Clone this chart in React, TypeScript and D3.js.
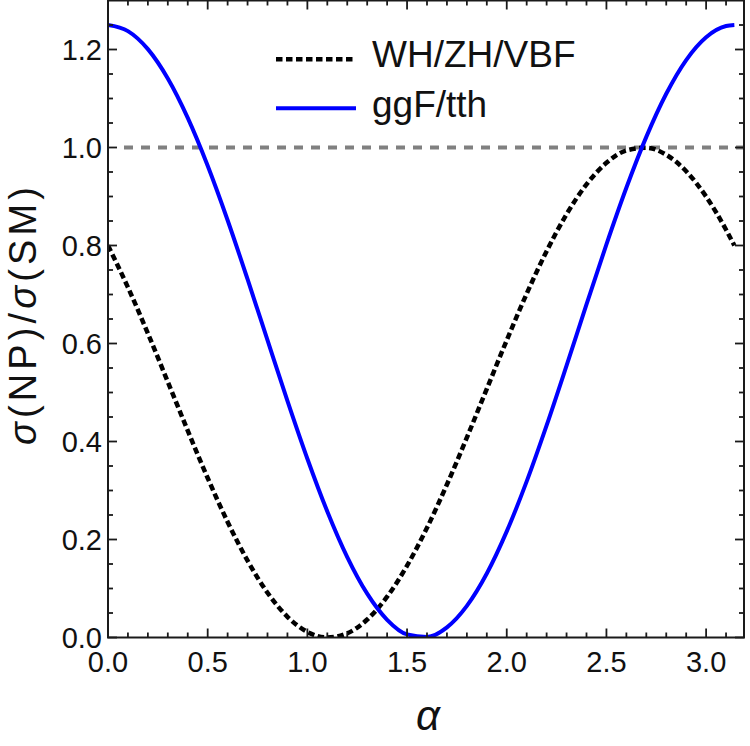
import React from "react";
import * as d3 from "d3";

// mixing angle grid (last point is pi)
const alphaGrid = [
  0, 0.1, 0.2, 0.3, 0.4, 0.5, 0.6, 0.7, 0.8, 0.9, 1.0, 1.1, 1.2, 1.3, 1.4, 1.5,
  1.6, 1.7, 1.8, 1.9, 2.0, 2.1, 2.2, 2.3, 2.4, 2.5, 2.6, 2.7, 2.8, 2.9, 3.0, 3.1,
  3.1416,
];

// WH/ZH/VBF production ratio
const vbfRatio = [
  0.8, 0.7146, 0.6206, 0.5217, 0.4221, 0.3255, 0.2359, 0.1568, 0.0914, 0.0423,
  0.0114, 0.0, 0.0086, 0.0367, 0.0833, 0.1466, 0.2239, 0.3122, 0.408, 0.5075,
  0.6066, 0.7016, 0.7884, 0.8638, 0.9247, 0.9687, 0.9939, 0.9995, 0.9852,
  0.9515, 0.8998, 0.8322, 0.8,
];

// ggF/tth production ratio
const ggfRatio = [
  1.25, 1.2375, 1.2007, 1.1408, 1.0604, 0.9627, 0.8515, 0.7312, 0.6068, 0.483,
  0.3649, 0.2572, 0.1641, 0.0894, 0.0361, 0.0063, 0.0011, 0.0207, 0.0645,
  0.1306, 0.2165, 0.3186, 0.4329, 0.5549, 0.6797, 0.8023, 0.9178, 1.0217,
  1.1097, 1.1785, 1.2251, 1.2479, 1.25,
];

const xMajorTicks = [0, 0.5, 1.0, 1.5, 2.0, 2.5, 3.0];
const yMajorTicks = [0, 0.2, 0.4, 0.6, 0.8, 1.0, 1.2];
const smReference = 1.0;

const legendLabels = ["WH/ZH/VBF", "ggF/tth"];

const W = 750;
const H = 746;
const frame = { left: 108, right: 744, top: 0.5, bottom: 637.5 };
const FONT = "'Liberation Sans', Arial, Helvetica, sans-serif";

export default function App() {
  const x = d3.scaleLinear().domain([0, 3.19]).range([frame.left, frame.right]);
  const y = d3.scaleLinear().domain([0, 1.3]).range([frame.bottom, frame.top]);

  const xMinor = d3.range(0, 3.15, 0.1).filter(
    (v) => !xMajorTicks.some((m) => Math.abs(m - v) < 1e-6)
  );
  const yMinor = d3.range(0, 1.29, 0.05).filter(
    (v) => !yMajorTicks.some((m) => Math.abs(m - v) < 1e-6)
  );

  const line = (vals: number[]) =>
    d3
      .line<number>()
      .x((_, i) => x(alphaGrid[i]))
      .y((d) => y(d))
      .curve(d3.curveMonotoneX)(vals) || "";

  const fmt = d3.format(".1f");
  const major = 9;
  const minor = 5;
  const tickStroke = { stroke: "#1a1a1a", strokeWidth: 1.8 };

  return (
    <svg
      width={W}
      height={H}
      style={{ position: "absolute", left: 0, top: 0, background: "#fff" }}
      fontFamily={FONT}
    >
      <defs>
        <clipPath id="plot">
          <rect
            x={frame.left}
            y={frame.top}
            width={frame.right - frame.left}
            height={frame.bottom - frame.top}
          />
        </clipPath>
      </defs>

      {/* SM reference line */}
      <line
        x1={x(0) + 16}
        x2={frame.right}
        y1={y(smReference)}
        y2={y(smReference)}
        stroke="#808080"
        strokeWidth={4}
        strokeDasharray="9 8"
      />

      <g clipPath="url(#plot)">
        <path
          d={line(vbfRatio)}
          fill="none"
          stroke="#000"
          strokeWidth={4.5}
          strokeDasharray="6.5 3.5"
        />
        <path d={line(ggfRatio)} fill="none" stroke="#0000ff" strokeWidth={4} />
      </g>

      {/* ticks on all four sides, pointing inward */}
      <g {...tickStroke}>
        {xMajorTicks.map((v) => (
          <g key={"xM" + v}>
            <line x1={x(v)} x2={x(v)} y1={frame.bottom} y2={frame.bottom - major} />
            <line x1={x(v)} x2={x(v)} y1={frame.top} y2={frame.top + major} />
          </g>
        ))}
        {xMinor.map((v) => (
          <g key={"xm" + v}>
            <line x1={x(v)} x2={x(v)} y1={frame.bottom} y2={frame.bottom - minor} />
            <line x1={x(v)} x2={x(v)} y1={frame.top} y2={frame.top + minor} />
          </g>
        ))}
        {yMajorTicks.map((v) => (
          <g key={"yM" + v}>
            <line x1={frame.left} x2={frame.left + major} y1={y(v)} y2={y(v)} />
            <line x1={frame.right} x2={frame.right - major} y1={y(v)} y2={y(v)} />
          </g>
        ))}
        {yMinor.map((v) => (
          <g key={"ym" + v}>
            <line x1={frame.left} x2={frame.left + minor} y1={y(v)} y2={y(v)} />
            <line x1={frame.right} x2={frame.right - minor} y1={y(v)} y2={y(v)} />
          </g>
        ))}
      </g>

      <rect
        x={frame.left}
        y={frame.top}
        width={frame.right - frame.left}
        height={frame.bottom - frame.top}
        fill="none"
        stroke="#1a1a1a"
        strokeWidth={2}
      />

      {/* tick labels */}
      {xMajorTicks.map((v) => (
        <text key={"xl" + v} x={x(v)} y={672} fontSize={29} textAnchor="middle" fill="#111">
          {fmt(v)}
        </text>
      ))}
      {yMajorTicks.map((v) => (
        <text key={"yl" + v} x={102} y={y(v) + 10.5} fontSize={29} textAnchor="end" fill="#111">
          {fmt(v)}
        </text>
      ))}

      {/* axis titles */}
      <text
        x={428}
        y={730}
        fontSize={42}
        fontStyle="italic"
        textAnchor="middle"
        fill="#111"
      >
        α
      </text>
      <text
        transform="translate(36,316) rotate(-90)"
        fontSize={38}
        textAnchor="middle"
        fill="#111"
        textLength={258}
        lengthAdjust="spacing"
      >
        <tspan fontStyle="italic">σ</tspan>(NP)/<tspan fontStyle="italic">σ</tspan>(SM)
      </text>

      {/* legend */}
      <line x1={276} x2={356} y1={59.3} y2={59.3} stroke="#000" strokeWidth={4.5} strokeDasharray="6.5 3.5" />
      <text x={372} y={67} fontSize={37} fill="#111">
        {legendLabels[0]}
      </text>
      <line x1={276} x2={356} y1={108.3} y2={108.3} stroke="#0000ff" strokeWidth={4} />
      <text x={372} y={117} fontSize={37} fill="#111">
        {legendLabels[1]}
      </text>
    </svg>
  );
}
